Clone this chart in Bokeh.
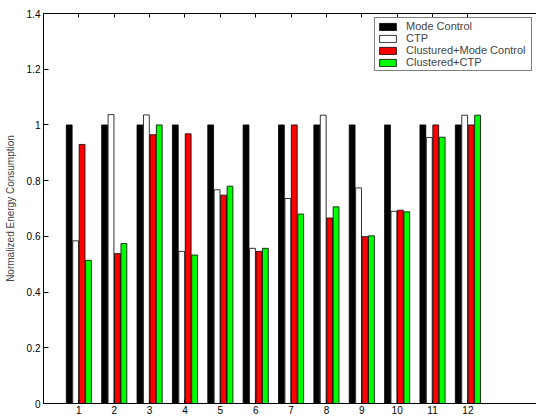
from bokeh.plotting import figure
from bokeh.models import (ColumnDataSource, Range1d, FixedTicker, LinearAxis,
                          Legend, LegendItem)
from bokeh.transform import dodge
from bokeh.embed import file_html
from bokeh.resources import INLINE

# ---- data ----
groups = [1, 2, 3, 4, 5, 6, 7, 8, 9, 10, 11, 12]
series_names = ["Mode Control", "CTP", "Clustured+Mode Control", "Clustered+CTP"]
mode_control = [1.0, 1.0, 1.0, 1.0, 1.0, 1.0, 1.0, 1.0, 1.0, 1.0, 1.0, 1.0]
ctp = [0.584, 1.037, 1.036, 0.546, 0.767, 0.557, 0.736, 1.035, 0.774, 0.690, 0.955, 1.035]
clustered_mode_control = [0.930, 0.538, 0.965, 0.968, 0.748, 0.546, 1.0, 0.666, 0.599, 0.694, 1.0, 1.0]
clustered_ctp = [0.514, 0.574, 1.0, 0.533, 0.780, 0.557, 0.680, 0.706, 0.602, 0.688, 0.956, 1.035]
y_ticks = [0, 0.2, 0.4, 0.6, 0.8, 1.0, 1.2, 1.4]
y_tick_labels = ["0", "0.2", "0.4", "0.6", "0.8", "1", "1.2", "1.4"]
y_label = "Normalized Energy Consumption"

colors = ["#000000", "#FFFFFF", "#FF0000", "#00FF00"]
offsets = [-0.273, -0.091, 0.091, 0.273]
bar_w = 0.165
FONT = "Liberation Sans"

source = ColumnDataSource(dict(
    x=groups, s0=mode_control, s1=ctp, s2=clustered_mode_control, s3=clustered_ctp))

p = figure(width=536, height=416, output_backend="svg", toolbar_location=None,
           x_range=Range1d(0, 13.94), y_range=Range1d(0, 1.4),
           min_border=0, min_border_left=43, min_border_top=13, min_border_right=0,
           min_border_bottom=0, background_fill_color="white",
           border_fill_color="white")

p.xgrid.visible = False
p.ygrid.visible = False
p.outline_line_color = None

renderers = []
for i, col in enumerate(["s0", "s1", "s2", "s3"]):
    r = p.vbar(x=dodge("x", offsets[i], range=p.x_range), top=col, width=bar_w,
               source=source, fill_color=colors[i], line_color="black",
               line_width=0.8)
    renderers.append(r)

# bottom axis
xa = p.xaxis[0]
xa.ticker = FixedTicker(ticks=groups)
xa.major_tick_in = 4
xa.major_tick_out = 0
xa.minor_tick_line_color = None
xa.major_label_standoff = 2
xa.major_label_text_font = FONT
xa.major_label_text_font_size = "10px"
xa.major_label_text_color = "black"
xa.axis_line_color = "black"

# left axis
ya = p.yaxis[0]
ya.ticker = FixedTicker(ticks=y_ticks)
ya.major_label_overrides = {t: l for t, l in zip(y_ticks, y_tick_labels)}
ya.major_tick_in = 5
ya.major_tick_out = 0
ya.minor_tick_line_color = None
ya.major_label_standoff = 3
ya.major_label_text_font = FONT
ya.major_label_text_font_size = "10px"
ya.major_label_text_color = "black"
ya.axis_label = y_label
ya.axis_label_text_font = FONT
ya.axis_label_text_font_size = "10px"
ya.axis_label_text_font_style = "normal"
ya.axis_label_standoff = 8
ya.axis_line_color = "black"

# top axis (ticks only, empty labels)
ta = LinearAxis(ticker=FixedTicker(ticks=groups), major_tick_in=4, major_tick_out=0,
                minor_tick_line_color=None,
                major_label_overrides={t: "" for t in groups},
                major_label_standoff=0, axis_label_standoff=0,
                axis_line_color="black")
p.add_layout(ta, "above")

legend = Legend(items=[LegendItem(label=n, renderers=[r]) for n, r in zip(series_names, renderers)],
                location="top_right", margin=4, padding=2, spacing=0,
                glyph_width=21, glyph_height=9, label_height=10, label_standoff=8,
                label_width=123,
                label_text_font=FONT, label_text_font_size="11px",
                border_line_color="black", border_line_width=1,
                background_fill_color="white", background_fill_alpha=1.0)
p.add_layout(legend, "center")

open("out.html", "w").write(file_html(p, INLINE))
